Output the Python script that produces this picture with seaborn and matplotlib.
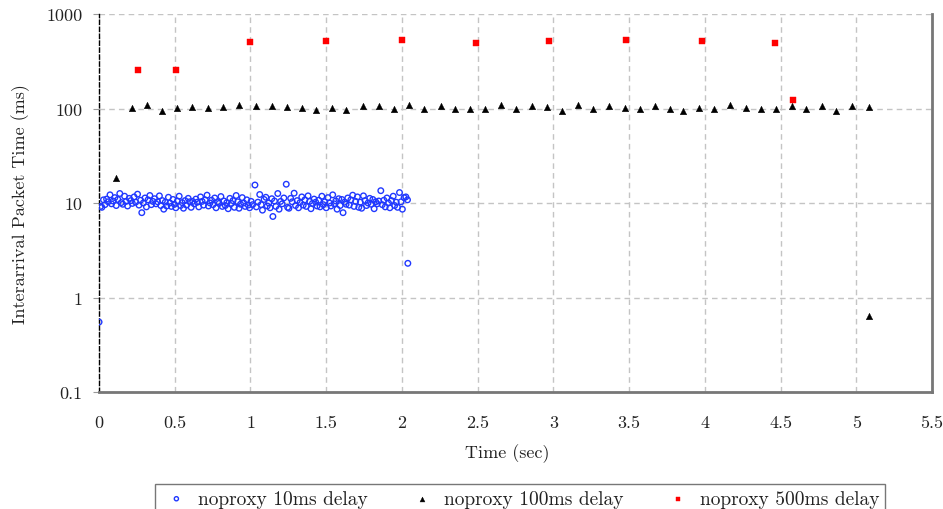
import numpy as np
import pandas as pd
import matplotlib
matplotlib.use("Agg")
import matplotlib.pyplot as plt
from matplotlib.ticker import FixedLocator, FixedFormatter, NullLocator
import seaborn as sns

# --- data -----------------------------------------------------------------
# 10 ms delay: successive interarrival gaps (ms); packet times follow from the running sum
gaps_10ms = [
    0.55,
    9.2, 9.0, 10.8, 9.6, 11.0, 10.3, 12.2, 9.8, 10.5, 11.4, 9.4, 10.9, 12.6, 10.1, 9.7, 11.8, 10.4, 9.3, 11.2, 10.6,
    9.9, 11.6, 10.2, 12.4, 9.5, 10.7, 7.9, 10.0, 11.3, 9.1, 10.8, 12.0, 9.6, 10.4, 11.1, 9.8, 10.3, 11.9, 9.4, 10.6,
    8.6, 10.2, 9.3, 11.5, 10.0, 9.2, 10.9, 9.7, 8.9, 10.5, 11.8, 9.4, 10.1, 8.8, 10.6, 9.5, 11.2, 10.3, 9.0, 10.4,
    9.8, 11.0, 10.2, 9.1, 11.6, 10.4, 9.5, 10.8, 12.1, 9.3, 10.0, 10.7, 9.6, 11.3, 8.9, 10.3, 9.9, 11.7, 9.2, 10.5,
    9.4, 10.1, 8.7, 11.2, 9.9, 10.6, 9.0, 12.0, 10.3, 8.8, 9.7, 11.4, 10.0, 9.2, 10.8, 9.5, 8.9, 10.4, 9.6, 15.5,
    9.1, 10.2, 12.3, 9.6, 8.4, 10.9, 11.5, 9.3, 10.0, 8.9, 11.1, 7.2, 10.5, 9.2, 12.6, 8.6, 10.4, 9.8, 11.3, 15.8,
    9.0, 8.8, 11.2, 10.3, 12.7, 9.4, 10.6, 8.9, 10.1, 11.6, 9.5, 10.8, 9.2, 11.9, 10.4, 8.7, 9.9, 11.0, 10.2, 9.3,
    10.7, 9.1, 11.8, 9.6, 10.3, 8.9, 11.4, 10.0, 9.3, 12.2, 9.8, 10.5, 8.6, 11.1, 9.4, 10.9, 7.9, 10.2, 9.7, 11.3,
    9.5, 10.8, 12.1, 9.2, 10.4, 11.6, 9.0, 10.2, 8.8, 11.9, 10.6, 9.4, 10.0, 11.2, 9.7, 10.9, 8.7, 10.3, 9.8, 10.5,
    13.5, 9.6, 10.7, 9.1, 11.3, 10.0, 8.9, 10.6, 11.8, 9.4, 10.2, 9.0, 12.9, 10.3, 8.6, 11.4, 11.6, 10.8,
    2.3,
]

# 100 ms delay: packet times (s) and interarrival gaps (ms)
t_100ms = [0.112, 0.216, 0.319, 0.414, 0.515, 0.614, 0.720, 0.821, 0.927, 1.035, 1.141, 1.242,
           1.343, 1.435, 1.541, 1.633, 1.742, 1.847, 1.948, 2.050, 2.149, 2.255, 2.349, 2.448,
           2.547, 2.655, 2.754, 2.862, 2.961, 3.056, 3.162, 3.261, 3.369, 3.470, 3.569, 3.668,
           3.767, 3.859, 3.961, 4.060, 4.168, 4.274, 4.368, 4.467, 4.575, 4.668, 4.773, 4.868,
           4.974, 5.081, 5.082]
v_100ms = [18.4, 101.0, 107.6, 93.0, 101.6, 102.5, 101.6, 102.5, 110.0, 106.7, 106.7, 104.0,
           101.6, 96.0, 101.6, 96.0, 106.7, 106.7, 97.6, 107.6, 100.0, 105.0, 100.0, 100.0,
           100.0, 109.4, 97.6, 106.7, 104.0, 93.0, 110.0, 100.0, 106.7, 101.6, 100.0, 105.0,
           98.4, 93.0, 101.6, 99.2, 109.4, 101.6, 99.2, 97.6, 106.7, 99.2, 106.7, 95.0,
           106.7, 104.0, 0.63]

# 500 ms delay: packet times (s) and interarrival gaps (ms)
t_500ms = [0.256, 0.506, 0.997, 1.499, 2.003, 2.488, 2.974, 3.481, 3.980, 4.465, 4.579]
v_500ms = [258, 255, 508, 520, 533, 499, 512, 533, 520, 499, 124]

labels = ["noproxy 10ms delay", "noproxy 100ms delay", "noproxy 500ms delay"]
x_ticks = [0, 0.5, 1, 1.5, 2, 2.5, 3, 3.5, 4, 4.5, 5, 5.5]
x_tick_labels = ["0", "0.5", "1", "1.5", "2", "2.5", "3", "3.5", "4", "4.5", "5", "5.5"]
y_ticks = [0.1, 1, 10, 100, 1000]
y_tick_labels = ["0.1", "1", "10", "100", "1000"]

df10 = pd.DataFrame({"t": np.cumsum(gaps_10ms) / 1000.0, "v": gaps_10ms})
df100 = pd.DataFrame({"t": t_100ms, "v": v_100ms})
df500 = pd.DataFrame({"t": t_500ms, "v": v_500ms})

# --- figure -----------------------------------------------------------------
sns.set_theme(style="white")
plt.rcParams["font.family"] = ["cmr10", "DejaVu Serif"]
plt.rcParams["axes.formatter.use_mathtext"] = True

fig = plt.figure(figsize=(9.43, 5.10), dpi=100)
ax = fig.add_axes([99 / 943, 1 - 393 / 510, 833 / 943, 378 / 510])

sns.scatterplot(data=df10, x="t", y="v", ax=ax, marker="o", s=16, color="#2038ff",
                edgecolor="#2038ff", linewidth=1.0, label=labels[0], zorder=3)
ax.collections[-1].set_facecolor("none")
sns.scatterplot(data=df100, x="t", y="v", ax=ax, marker="^", s=22, color="black",
                edgecolor="black", linewidth=0.3, label=labels[1], zorder=3)
sns.scatterplot(data=df500, x="t", y="v", ax=ax, marker="s", s=14, color="#ff0000",
                edgecolor="#ff0000", linewidth=0.3, label=labels[2], zorder=3)

ax.set_yscale("log")
ax.set_xlim(0, 5.5)
ax.set_ylim(0.1, 1000)

ax.xaxis.set_major_locator(FixedLocator(x_ticks))
ax.xaxis.set_major_formatter(FixedFormatter(x_tick_labels))
ax.yaxis.set_major_locator(FixedLocator(y_ticks))
ax.yaxis.set_major_formatter(FixedFormatter(y_tick_labels))
ax.yaxis.set_minor_locator(NullLocator())

ax.grid(True, which="major", color="#c4c4c4", linestyle=(0, (4, 3)), linewidth=1.0)
ax.set_axisbelow(True)

ax.tick_params(axis="x", length=0, pad=16, labelsize=13, labelcolor="#222222")
ax.tick_params(axis="y", length=4, width=0.8, color="#999999", left=True, pad=8,
               labelsize=13, labelcolor="#222222")

ax.spines["top"].set_visible(False)
ax.spines["left"].set_color("black")
ax.spines["left"].set_linestyle((0, (3, 2)))
ax.spines["left"].set_linewidth(1.0)
ax.spines["bottom"].set_color("#777777")
ax.spines["bottom"].set_linewidth(2.0)
ax.spines["right"].set_color("#777777")
ax.spines["right"].set_linewidth(2.0)

ax.set_xlabel("Time (sec)", fontsize=13, color="#222222")
ax.set_ylabel("Interarrival Packet Time (ms)", fontsize=13, color="#222222")
ax.xaxis.set_label_coords(0.49, -0.135)
ax.yaxis.set_label_coords(-0.083, 0.5)

handles, labs = ax.get_legend_handles_labels()
ax.get_legend().remove()
leg = fig.legend(handles, labs, loc="upper left", ncol=3, mode="expand",
                 bbox_to_anchor=(155 / 943, -0.05, 730 / 943, 0.099),
                 frameon=True, fancybox=False, edgecolor="#555555",
                 fontsize=14, markerscale=0.75, handlelength=1.6, handletextpad=0.3,
                 borderaxespad=0, borderpad=0.3)
leg.get_frame().set_linewidth(1.0)
for txt in leg.get_texts():
    txt.set_color("#222222")

fig.savefig("out.png", dpi=100)
